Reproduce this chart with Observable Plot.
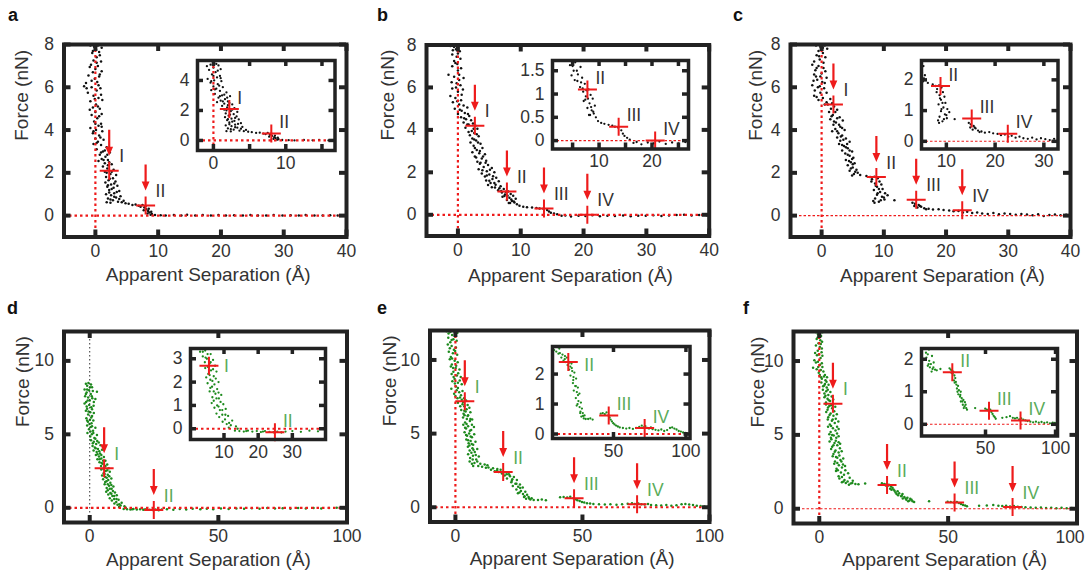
<!DOCTYPE html>
<html><head><meta charset="utf-8">
<script src="https://cdn.jsdelivr.net/npm/d3@7"></script>
<script src="https://cdn.jsdelivr.net/npm/@observablehq/plot@0.6"></script>
<style>
body{margin:0;background:#fff;}
#root{position:relative;width:1088px;height:577px;overflow:hidden;background:#fff;font-family:"Liberation Sans",Arial,sans-serif;}
.plet{position:absolute;font-weight:bold;font-size:18px;line-height:1;color:#111;}
</style></head><body><div id="root"></div>
<script>
// ---------- DATA (Apparent Separation Å, Force nN) ----------
const ptsA = [[-0.8,7.95],[-0.2,7.9],[0.4,7.95],[1.0,7.85],[0.1,7.75],[-0.5,7.6],[0.7,7.5],[0.2,7.4],[-0.3,7.25],[0.9,7.2],[-0.7,7.05],[0.4,7.0],[0.0,6.85],[1.0,6.75],[-0.4,6.7],[-1.1,6.55],[0.6,6.5],[-0.1,6.4],[0.3,6.25],[-1.5,6.2],[-1.8,6.05],[-0.6,6.0],[0.8,5.95],[0.2,5.85],[-1.2,5.75],[-0.3,5.6],[0.5,5.5],[1.1,5.4],[-0.8,5.35],[0.1,5.2],[-0.4,5.05],[0.7,5.0],[0.0,4.85],[1.0,4.75],[-0.6,4.7],[0.3,4.55],[-0.2,4.4],[0.9,4.3],[0.5,4.2],[-0.8,4.1],[0.1,4.0],[1.1,3.95],[-0.4,3.85],[0.6,3.75],[0.0,3.6],[1.3,3.55],[0.4,3.45],[-0.3,3.35],[0.9,3.3],[1.8,3.2],[0.2,3.1],[1.2,3.0],[2.3,2.95],[0.7,2.85],[1.6,2.75],[1.0,2.65],[2.0,2.6],[0.5,2.55],[1.5,2.45],[2.6,2.4],[1.2,2.3],[1.9,2.2],[2.9,2.15],[1.5,2.05],[2.4,1.95],[3.3,1.9],[1.7,1.8],[2.8,1.75],[2.1,1.65],[3.2,1.6],[1.6,1.55],[2.5,1.45],[3.5,1.4],[1.9,1.35],[2.9,1.3],[2.2,1.2],[3.8,1.15],[3.0,1.05],[1.7,1.0],[2.5,0.95],[4.0,0.9],[3.3,0.85],[2.0,0.8],[2.8,0.72],[4.5,0.7],[3.6,0.65],[1.8,0.62],[2.4,0.6],[4.8,0.58],[5.3,0.55],[5.9,0.5],[6.4,0.52],[6.9,0.46],[7.2,0.42],[7.5,0.5],[7.8,0.38],[8.1,0.3],[7.7,0.25],[8.4,0.22],[8.6,0.15],[8.3,0.1],[9.0,0.08],[8.8,0.04],[9.5,0.03],[10.4,0.02],[11.2,0.0],[12.5,0.03],[13.7,0.01],[14.6,0.04],[15.9,0.0],[17.1,0.03],[18.4,0.01],[19.6,0.03],[20.8,0.0],[22.1,0.02],[23.5,0.0],[24.7,0.03],[25.9,0.01],[27.2,0.0],[28.4,0.03],[29.8,0.0],[31.1,0.02],[32.4,0.0],[33.5,0.03],[34.9,0.01],[36.2,0.0],[37.4,0.02],[38.6,0.0],[39.7,0.02],
 [0.0,7.98],[-0.4,7.7],[0.6,7.65],[0.2,7.15],[-0.9,6.95],[0.7,6.6],[-0.6,6.3],[0.5,6.1],[-1.4,5.95],[0.9,5.65],[-0.1,5.45],[0.4,5.1],[-0.9,4.95],[0.6,4.65],[0.0,4.3],[1.0,4.15],[-0.3,3.95],[0.8,3.65],[0.2,3.4],[1.5,3.05],[0.9,2.95],[1.9,2.85],[2.2,2.5],[1.3,2.6],[2.0,2.35],[2.6,2.05],[1.8,2.0],[2.3,1.72],[3.0,1.5],[2.0,1.42],[2.6,1.25],[3.4,1.1],[2.2,1.08],[3.0,0.88],[3.8,0.78],[2.4,0.75],[4.2,0.62],[8.0,0.45],[8.5,0.32],[8.9,0.18]];
const ptsB = [[-1.2,7.95],[-0.6,7.9],[0.1,7.95],[-0.3,7.8],[0.3,7.7],[-0.9,7.55],[-0.2,7.45],[0.4,7.35],[-0.6,7.25],[-0.1,7.1],[-0.9,7.0],[0.5,6.9],[0.0,6.8],[-1.5,6.6],[-0.6,6.5],[0.9,6.45],[0.2,6.35],[-1.0,6.25],[0.4,6.1],[-0.3,6.0],[0.8,5.9],[0.0,5.8],[-1.2,5.6],[-0.4,5.5],[0.5,5.4],[-0.8,5.3],[0.2,5.2],[1.5,5.05],[-0.5,5.0],[0.6,4.9],[1.1,4.8],[0.0,4.75],[1.8,4.65],[0.5,4.6],[1.3,4.5],[2.1,4.45],[0.9,4.35],[1.7,4.25],[2.8,4.2],[1.2,4.1],[3.1,4.05],[2.2,3.95],[2.6,3.85],[1.9,3.75],[3.3,3.7],[2.3,3.6],[2.9,3.5],[2.0,3.4],[3.6,3.35],[2.5,3.25],[3.9,3.15],[3.0,3.05],[2.3,2.95],[3.4,2.9],[4.3,2.85],[2.7,2.75],[3.8,2.65],[4.5,2.55],[3.1,2.5],[3.5,2.4],[4.8,2.35],[4.1,2.25],[5.4,2.2],[3.3,2.15],[4.6,2.05],[5.8,2.0],[3.8,1.95],[5.0,1.9],[4.3,1.8],[6.1,1.75],[5.5,1.68],[4.5,1.62],[6.5,1.58],[5.2,1.5],[6.0,1.42],[4.8,1.4],[6.8,1.35],[5.9,1.28],[7.3,1.22],[6.4,1.15],[8.0,1.1],[7.0,1.05],[8.4,0.98],[7.5,0.95],[8.8,0.9],[7.1,0.85],[8.2,0.8],[9.2,0.75],[7.8,0.7],[8.6,0.65],[9.0,0.58],[8.1,0.55],[9.4,0.5],[9.8,0.42],[10.4,0.38],[11.0,0.36],[11.8,0.34],[12.5,0.32],[13.0,0.3],[13.6,0.28],[14.2,0.22],[14.5,0.15],[14.8,0.1],[15.3,0.06],[15.8,0.02],[16.5,-0.05],[17.1,-0.03],[18.0,-0.08],[19.2,-0.04],[20.3,-0.06],[21.4,-0.02],[22.6,-0.07],[23.8,-0.04],[25.0,-0.06],[26.3,-0.03],[27.5,-0.07],[28.7,-0.04],[29.9,-0.05],[31.1,-0.02],[32.4,-0.06],[33.6,-0.03],[34.8,-0.01],[36.0,0.0],[37.2,-0.03],[38.4,-0.01],[39.6,-0.02],
 [-0.8,7.75],[0.0,7.6],[-0.4,7.15],[0.2,6.6],[-0.2,6.2],[-0.9,5.95],[0.6,5.65],[-0.1,5.35],[0.9,5.15],[0.3,4.95],[1.6,4.75],[1.0,4.55],[2.4,4.3],[1.5,4.25],[2.5,4.05],[1.7,3.9],[3.0,3.8],[2.6,3.55],[3.2,3.4],[2.7,3.15],[3.5,3.0],[2.9,2.7],[4.0,2.75],[3.6,2.45],[4.4,2.45],[3.9,2.1],[5.1,2.12],[4.6,1.85],[5.6,1.82],[5.0,1.6],[5.8,1.5],[5.4,1.3],[6.6,1.25],[6.9,1.12],[7.6,1.08],[7.4,0.88],[8.5,0.72],[8.9,0.62],[7.9,0.9],[8.3,0.55]];
const ptsC = [[-0.9,7.95],[-0.2,7.9],[0.5,7.95],[0.9,7.8],[-0.5,7.7],[0.2,7.6],[-0.8,7.5],[0.6,7.4],[-0.3,7.3],[-1.2,7.2],[-1.5,7.05],[-0.5,7.0],[0.3,6.9],[-1.0,6.8],[0.6,6.75],[-1.2,6.6],[-0.2,6.5],[0.8,6.45],[-0.7,6.35],[0.1,6.25],[-1.5,6.1],[-0.6,6.0],[0.4,5.95],[-1.1,5.85],[-0.2,5.75],[-1.2,5.6],[0.2,5.5],[1.4,5.45],[-0.5,5.4],[0.8,5.3],[1.0,5.2],[2.0,5.1],[1.5,5.0],[2.5,4.95],[1.2,4.85],[1.8,4.7],[2.9,4.6],[1.4,4.5],[3.4,4.45],[2.3,4.35],[1.9,4.25],[3.0,4.15],[2.2,4.05],[3.7,4.0],[1.7,3.95],[2.7,3.85],[3.3,3.75],[2.5,3.65],[3.9,3.6],[3.0,3.5],[4.5,3.45],[2.8,3.35],[3.6,3.25],[4.2,3.15],[3.3,3.05],[4.9,3.0],[3.8,2.9],[4.5,2.8],[5.1,2.7],[3.9,2.6],[4.7,2.5],[5.3,2.45],[4.2,2.35],[5.0,2.25],[5.6,2.15],[4.5,2.1],[5.8,2.0],[5.2,1.95],[6.2,1.9],[4.9,1.88],[7.2,1.85],[7.8,1.8],[8.5,1.82],[9.0,1.75],[8.1,1.7],[9.3,1.6],[8.6,1.5],[9.6,1.45],[8.9,1.35],[9.8,1.25],[8.4,1.2],[9.4,1.1],[10.2,1.05],[8.9,0.98],[10.6,0.95],[9.7,0.88],[8.6,0.8],[10.1,0.75],[8.3,0.68],[9.2,0.65],[8.5,0.6],[11.7,0.72],[14.6,0.6],[15.0,0.55],[15.6,0.5],[14.9,0.45],[16.0,0.42],[15.4,0.38],[16.5,0.35],[17.2,0.32],[17.9,0.28],[18.8,0.3],[19.6,0.26],[20.5,0.24],[21.2,0.2],[22.0,0.22],[22.7,0.15],[23.4,0.18],[24.2,0.12],[25.0,0.15],[25.8,0.1],[26.7,0.08],[27.6,0.12],[28.5,0.06],[29.4,0.1],[30.3,0.07],[31.2,0.04],[32.1,0.08],[33.0,0.05],[33.9,0.02],[34.8,0.06],[35.7,-0.02],[36.6,0.03],[37.5,0.05],[38.4,0.02],[39.3,0.04],
 [0.2,7.85],[-0.4,7.45],[0.3,7.15],[-0.8,6.9],[0.0,6.65],[-0.9,6.5],[0.5,6.2],[-1.3,6.3],[-0.3,6.05],[0.8,5.75],[-0.8,5.55],[0.5,5.2],[1.7,5.25],[2.2,4.85],[1.6,4.65],[2.5,4.55],[2.0,4.4],[2.8,4.25],[3.3,4.1],[2.5,3.95],[3.1,3.7],[3.5,3.55],[4.1,3.35],[3.3,3.3],[3.9,3.2],[4.5,3.05],[4.2,2.85],[4.9,2.65],[4.4,2.55],[5.0,2.4],[4.7,2.2],[5.4,2.05],[8.0,1.6],[8.7,1.4],[9.2,1.25],[9.0,1.05],[10.0,0.85],[9.5,0.72],[15.8,0.45],[16.8,0.3]];
const ptsD = [[-1.5,8.45],[-0.5,8.5],[0.5,8.4],[-1.0,8.3],[0.9,8.2],[-2.0,8.05],[-0.3,8.0],[1.2,7.95],[2.8,7.9],[-1.2,7.85],[0.4,7.75],[-1.8,7.6],[-0.6,7.5],[1.0,7.45],[2.2,7.4],[0.0,7.3],[-1.4,7.2],[-2.0,7.1],[-0.2,7.0],[1.5,6.95],[0.6,6.85],[-1.0,6.75],[-1.5,6.6],[0.2,6.5],[1.6,6.45],[-0.6,6.35],[0.9,6.25],[-1.3,6.1],[0.1,6.0],[1.4,5.95],[-0.7,5.85],[0.7,5.75],[-1.0,5.6],[0.4,5.5],[2.2,5.45],[-0.3,5.35],[1.3,5.25],[-0.9,5.1],[0.8,5.0],[2.8,4.95],[0.2,4.85],[1.8,4.75],[0.5,4.6],[1.6,4.5],[3.5,4.45],[2.5,4.35],[4.2,4.25],[1.1,4.2],[2.0,4.1],[3.2,4.0],[4.8,3.95],[1.5,3.9],[2.7,3.8],[4.0,3.7],[2.4,3.6],[3.6,3.5],[5.5,3.45],[4.5,3.35],[3.0,3.3],[6.1,3.2],[3.8,3.1],[5.0,3.0],[6.8,2.95],[4.4,2.85],[5.8,2.8],[7.4,2.7],[4.5,2.6],[6.2,2.5],[7.8,2.45],[5.4,2.35],[7.0,2.25],[4.8,2.2],[6.0,2.1],[8.4,2.0],[5.2,1.95],[7.2,1.9],[6.5,1.8],[8.0,1.7],[5.8,1.6],[7.5,1.5],[9.2,1.45],[6.6,1.35],[8.5,1.3],[7.0,1.2],[6.4,1.1],[9.8,1.05],[8.0,1.0],[7.2,0.9],[10.5,0.85],[8.8,0.8],[7.8,0.65],[9.5,0.6],[11.2,0.55],[8.6,0.5],[10.3,0.4],[12.4,0.35],[9.6,0.3],[10.8,0.2],[12.0,0.15],[13.5,0.1],[11.4,0.05],[14.0,0.0],[13.2,-0.08],[14.5,-0.1],[15.8,-0.12],[17.0,-0.08],[18.3,-0.12],[19.6,-0.1],[20.8,-0.14],[22.0,-0.1],[23.3,-0.13],[24.5,-0.15],[25.6,-0.12],[26.8,-0.16],[28.0,-0.12],[30.0,-0.1],[32.5,-0.13],[35.0,-0.08],[37.5,-0.11],[40.0,-0.07],[43.0,-0.1],[45.5,-0.06],[48.0,-0.09],[51.0,-0.05],[54.0,-0.08],[57.0,-0.04],[60.0,-0.07],[63.0,-0.03],[66.0,-0.06],[69.0,-0.02],[72.0,-0.05],[75.0,-0.03],[78.0,-0.06],[81.0,-0.02],[84.0,-0.04],[87.0,-0.01],[90.0,-0.04],[93.0,-0.02],[96.0,0.0],[99.0,-0.02],
 [-1.0,8.05],[0.1,8.2],[-1.5,7.75],[0.8,7.6],[-0.8,7.3],[1.6,7.2],[-1.2,6.9],[0.9,6.7],[-0.5,6.55],[0.6,6.15],[-1.0,5.95],[0.9,5.55],[-0.1,5.7],[1.4,5.1],[0.3,5.2],[2.2,4.7],[1.2,4.4],[2.9,4.55],[2.3,4.05],[3.7,3.85],[3.0,3.65],[4.5,3.6],[3.8,3.3],[5.2,3.2],[4.6,3.05],[6.1,2.85],[5.3,2.65],[6.8,2.55],[5.8,2.3],[6.6,2.05],[7.6,2.15],[6.0,1.75],[8.4,1.55],[7.0,1.6],[7.8,1.3],[9.0,1.15],[8.4,0.95],[9.5,0.8],[10.4,0.6],[11.5,0.25],[16.5,-0.1],[21.4,-0.12]];
const ptsE = [[-3.5,11.95],[-2.0,11.9],[-0.5,11.95],[0.8,11.85],[-1.3,11.7],[-2.8,11.5],[-0.8,11.4],[0.5,11.3],[-2.0,11.2],[-3.0,11.05],[-1.5,10.95],[0.2,10.85],[-0.6,10.7],[-2.6,10.55],[-1.0,10.45],[0.7,10.35],[-1.8,10.2],[-2.2,10.05],[-0.3,9.95],[0.9,9.85],[-1.4,9.7],[-1.8,9.55],[0.1,9.45],[1.6,9.35],[-0.8,9.2],[-1.5,9.05],[0.6,8.95],[2.1,8.85],[-0.3,8.7],[-1.2,8.55],[1.0,8.45],[2.5,8.35],[0.2,8.2],[-1.6,8.05],[0.5,7.95],[2.8,7.9],[1.5,7.8],[-0.5,7.7],[0.0,7.55],[1.8,7.45],[3.4,7.4],[2.5,7.3],[4.2,7.25],[1.0,7.1],[2.8,7.0],[4.8,6.95],[3.5,6.85],[5.5,6.75],[2.3,6.6],[4.0,6.5],[5.9,6.45],[3.2,6.35],[5.0,6.25],[3.0,6.1],[4.5,6.0],[6.6,5.95],[5.7,5.85],[3.8,5.75],[3.1,5.6],[5.0,5.5],[7.3,5.45],[4.2,5.35],[6.2,5.25],[3.6,5.1],[5.4,5.0],[7.4,4.95],[4.6,4.85],[6.5,4.75],[4.3,4.6],[6.0,4.5],[7.9,4.45],[5.2,4.35],[7.0,4.25],[4.9,4.1],[6.7,4.0],[8.6,3.95],[5.6,3.85],[7.6,3.75],[5.0,3.6],[6.9,3.5],[9.2,3.45],[5.8,3.35],[8.2,3.25],[5.6,3.1],[7.5,3.0],[9.8,2.95],[11.5,2.9],[12.6,2.85],[6.5,2.95],[10.5,2.75],[13.0,2.7],[14.8,2.65],[16.5,2.6],[17.8,2.55],[12.0,2.68],[15.5,2.45],[17.0,2.4],[19.5,2.38],[21.0,2.35],[20.2,2.25],[16.4,2.5],[19.4,2.15],[21.5,2.1],[23.0,2.05],[20.3,1.95],[22.4,1.9],[24.2,1.85],[22.0,1.7],[23.6,1.6],[25.4,1.55],[22.6,1.45],[24.7,1.4],[26.5,1.35],[24.0,1.2],[25.8,1.1],[27.5,1.05],[24.6,0.95],[26.6,0.9],[28.2,0.85],[27.2,0.75],[28.8,0.7],[30.0,0.62],[27.8,0.58],[29.5,0.52],[30.8,0.5],[32.5,0.5],[34.0,0.52],[35.6,0.48],[41.2,0.68],[42.6,0.7],[44.0,0.66],[45.2,0.72],[46.5,0.62],[47.3,0.55],[48.0,0.48],[48.9,0.42],[49.8,0.36],[50.7,0.32],[51.8,0.28],[53.0,0.25],[54.3,0.22],[56.5,0.2],[58.8,0.18],[61.0,0.2],[63.4,0.17],[65.6,0.2],[67.8,0.24],[69.5,0.28],[70.6,0.22],[72.0,0.26],[73.2,0.2],[74.5,0.18],[75.8,0.22],[77.0,0.16],[79.0,0.14],[81.0,0.12],[83.0,0.15],[85.0,0.1],[87.0,0.13],[89.0,0.2],[90.5,0.22],[92.0,0.18],[93.5,0.15],[95.0,0.1],[96.5,0.08],[98.0,0.05],[99.5,0.04],
 [-2.7,11.8],[-0.1,11.6],[-1.5,11.35],[-2.2,10.8],[-0.1,10.6],[-1.3,10.1],[0.3,9.6],[-0.9,9.45],[1.1,9.1],[-0.7,8.85],[1.7,8.6],[-0.2,8.4],[1.0,8.1],[2.2,7.6],[0.8,7.4],[3.0,7.15],[1.9,6.85],[4.4,6.65],[3.5,6.55],[4.8,6.2],[3.6,6.25],[5.9,6.0],[4.4,5.65],[6.5,5.6],[3.8,5.4],[5.7,5.2],[4.2,4.9],[6.0,4.8],[5.0,4.55],[6.4,4.3],[5.5,4.2],[7.1,3.9],[6.3,3.7],[8.0,3.55],[6.8,3.25],[8.6,3.1],[7.0,2.8],[9.0,2.8],[14.0,2.55],[18.3,2.3],[21.2,2.2],[22.2,1.8],[24.0,1.6],[25.5,1.3],[25.2,1.0],[27.0,0.7],[29.0,0.6]];
const ptsF = [[-1.2,11.95],[0.0,11.9],[1.2,11.95],[-0.5,11.8],[0.7,11.7],[-1.0,11.5],[0.4,11.4],[1.1,11.3],[-0.3,11.2],[-1.3,11.05],[0.2,10.95],[1.0,10.85],[-0.6,10.7],[-1.6,10.55],[-0.2,10.45],[1.2,10.35],[0.5,10.2],[-1.9,10.05],[-0.5,9.95],[1.0,9.85],[0.3,9.75],[-2.4,9.55],[-1.0,9.45],[0.6,9.4],[1.6,9.3],[-0.2,9.2],[0.2,9.05],[1.8,8.95],[3.0,8.9],[1.0,8.8],[2.4,8.7],[0.8,8.55],[2.2,8.45],[3.6,8.4],[1.5,8.3],[2.9,8.2],[1.4,8.05],[2.7,7.95],[4.3,7.9],[2.0,7.8],[3.5,7.7],[2.0,7.55],[3.2,7.45],[5.4,7.4],[4.2,7.3],[2.6,7.2],[2.6,7.05],[3.9,6.95],[6.2,6.9],[5.0,6.8],[3.2,6.7],[2.7,6.55],[4.4,6.45],[6.8,6.4],[5.5,6.3],[3.5,6.2],[3.3,6.05],[4.9,5.95],[7.4,5.9],[6.0,5.8],[4.1,5.7],[3.4,5.55],[5.3,5.45],[7.5,5.4],[6.3,5.3],[4.4,5.2],[3.9,5.05],[5.6,4.95],[7.5,4.9],[6.6,4.8],[4.7,4.7],[4.0,4.55],[5.9,4.45],[8.1,4.4],[7.0,4.3],[5.0,4.2],[4.6,4.05],[6.3,3.95],[8.7,3.9],[7.5,3.8],[5.5,3.7],[5.2,3.55],[7.0,3.45],[9.3,3.4],[8.2,3.3],[6.1,3.2],[5.8,3.05],[7.6,2.95],[10.0,2.9],[8.8,2.8],[6.7,2.7],[6.5,2.55],[8.4,2.45],[11.2,2.4],[9.6,2.3],[7.5,2.2],[7.8,2.05],[9.8,1.95],[13.0,1.9],[11.0,1.85],[8.8,1.8],[10.3,1.75],[12.2,1.7],[14.0,1.68],[15.2,1.66],[11.5,1.62],[17.8,1.7],[24.3,1.72],[25.2,1.68],[26.0,1.65],[27.0,1.62],[26.6,1.55],[27.8,1.5],[28.4,1.42],[27.5,1.35],[28.0,1.28],[29.2,1.22],[30.4,1.18],[29.6,1.1],[31.0,1.05],[32.3,1.0],[30.6,0.92],[31.8,0.85],[33.0,0.8],[34.2,0.75],[32.4,0.7],[35.3,0.68],[33.8,0.6],[35.0,0.55],[36.2,0.5],[36.8,0.45],[34.5,0.5],[42.6,0.5],[49.8,0.48],[51.0,0.45],[52.2,0.42],[53.4,0.45],[54.2,0.38],[55.0,0.32],[55.8,0.26],[56.6,0.22],[57.3,0.17],[62.0,0.2],[65.0,0.22],[67.5,0.25],[69.5,0.2],[71.0,0.18],[72.5,0.2],[74.0,0.15],[75.5,0.18],[77.0,0.14],[78.5,0.12],[80.0,0.1],[82.0,0.08],[84.0,0.06],[86.0,0.08],[88.0,0.05],[90.0,0.07],[92.0,0.04],[94.0,0.06],[96.0,0.03],[98.0,0.05],[99.5,0.04],
 [-0.6,11.6],[0.6,11.15],[-0.9,10.4],[0.9,10.6],[-1.3,9.9],[1.2,9.6],[-0.4,9.6],[2.2,9.05],[0.7,8.9],[2.8,8.6],[1.9,8.35],[3.3,8.05],[2.4,7.65],[4.8,7.6],[3.7,7.35],[4.6,7.0],[3.4,6.85],[5.8,6.6],[4.0,6.35],[6.4,6.1],[5.2,6.05],[4.6,5.6],[6.9,5.55],[5.0,5.0],[6.9,5.1],[4.5,4.8],[6.4,4.6],[7.5,4.5],[5.5,4.3],[8.0,4.1],[6.0,3.85],[7.8,3.6],[6.5,3.5],[8.6,3.2],[7.0,3.1],[9.2,3.0],[7.2,2.6],[10.1,2.6],[8.8,2.15],[11.8,2.1],[9.4,1.85],[12.8,1.75],[25.8,1.58],[28.8,1.3],[30.0,1.0],[32.0,0.9],[33.5,0.7],[35.8,0.6]];

// event markers (position of the red crosses)
const markA = [{x:2.2,y:2.1,label:"I"},{x:8.0,y:0.47,label:"II"}];
const markB = [{x:2.7,y:4.2,label:"I"},{x:7.8,y:1.1,label:"II"},{x:13.7,y:0.3,label:"III"},{x:20.6,y:0.0,label:"IV"}];
const markC = [{x:1.9,y:5.2,label:"I"},{x:8.8,y:1.8,label:"II"},{x:15.2,y:0.74,label:"III"},{x:22.6,y:0.25,label:"IV"}];
const markD = [{x:5.6,y:2.7,label:"I"},{x:24.9,y:-0.15,label:"II"}];
const markE = [{x:3.7,y:7.2,label:"I"},{x:18.8,y:2.4,label:"II"},{x:46.7,y:0.62,label:"III"},{x:71.5,y:0.2,label:"IV"}];
const markF = [{x:5.3,y:7.1,label:"I"},{x:26.3,y:1.6,label:"II"},{x:52.5,y:0.42,label:"III"},{x:75.0,y:0.12,label:"IV"}];

// tick values
const xTicksTop = [0,10,20,30,40];
const yTicksTop = [0,2,4,6,8];
const xTicksBot = [0,50,100];
const yTicksBot = [0,5,10];
const insetXTicks = {a:[0,5,10,15], b:[5,10,15,20,25], c:[10,20,30], d:[10,20,30], e:[50,100], f:[50,100]};
const insetXLabels = {a:[0,10], b:[10,20], c:[10,20,30], d:[10,20,30], e:[50,100], f:[50,100]};
const insetYTicks = {a:[0,2,4], b:[0,0.5,1,1.5], c:[0,1,2], d:[0,1,2,3], e:[0,1,2], f:[0,1,2]};
const xTitle = "Apparent Separation (Å)";
const yTitle = "Force (nN)";

// ---------- STYLE / LAYOUT ----------
const FONT = '"Liberation Sans", Arial, sans-serif';
const RED = "#ee1b1b";
const AX = "#222";
const TXT = "#333";
const BLACKDOT = "#111";
const GREENDOT = "#1d8a1d";
const GREENTXT = "#5aac5a";
const TICKFS = 17.5, TITLEFS = 19, LABFS = 17.5;
const thickRed = {stroke: RED, strokeWidth: 2.2, strokeDasharray: "2.5,3"};
const thinRed = {stroke: RED, strokeWidth: 1.1, strokeDasharray: "2.5,2"};
const thinBlack = {stroke: "#333", strokeWidth: 1, strokeDasharray: "1.5,2.5"};

const crossSym = {draw(ctx){ ctx.moveTo(-9.5,0); ctx.lineTo(9.5,0); ctx.moveTo(0,-9); ctx.lineTo(0,9); }};
const arrowSym = {draw(ctx){ ctx.moveTo(-1.1,-41); ctx.lineTo(1.1,-41); ctx.lineTo(1.1,-24); ctx.lineTo(3.9,-24); ctx.lineTo(0,-15); ctx.lineTo(-3.9,-24); ctx.lineTo(-1.1,-24); ctx.closePath(); }};

const insetLabelShift = {d: {I: [15, 1]}, e: {II: [16, 3]}};
const lastXLabelShift = {f: -7};

const panels = [
 {id:"a", pts:ptsA, mk:markA, dot:BLACKDOT, lab:TXT, box:[0,0,360,290], fr:[63.5,346,44,236.5], x:[-5,40], y:[-1,8], xt:xTicksTop, yt:yTicksTop, h:thickRed, v:thickRed, xtD:[3,43.5], ytD:-42.5,
  inset:{fr:[196.5,334,60,150], x:[-2.2,16.8], y:[-0.67,5.33], h:thickRed, v:thickRed}},
 {id:"b", pts:ptsB, mk:markB, dot:BLACKDOT, lab:TXT, box:[360,0,360,290], fr:[426,708.7,44.5,235.5], x:[-5,40], y:[-1,8], xt:xTicksTop, yt:yTicksTop, h:thickRed, v:thickRed, xtD:[2.6,46], ytD:-38.7,
  inset:{fr:[551.5,687.5,60,148.5], x:[1.2,26.9], y:[-0.18,1.72], h:thinRed, v:null}},
 {id:"c", pts:ptsC, mk:markC, dot:BLACKDOT, lab:TXT, box:[720,0,368,290], fr:[790,1070,44,236.5], x:[-5,40], y:[-1,8], xt:xTicksTop, yt:yTicksTop, h:thinRed, v:thickRed, xtD:[12,44.5], ytD:-34.3,
  inset:{fr:[921,1057.5,60,148.5], x:[4.9,32.9], y:[-0.25,2.63], h:thinRed, v:null}},
 {id:"d", pts:ptsD, mk:markD, dot:GREENDOT, lab:GREENTXT, box:[0,290,360,287], fr:[63.5,346.5,331,522], x:[-10,100], y:[-1,12], xt:xTicksBot, yt:yTicksBot, h:thickRed, v:thinBlack, xtD:[3,43], ytD:-41,
  inset:{fr:[190,325,347.5,438.5], x:[0.2,39.7], y:[-0.46,3.44], h:thickRed, v:null}},
 {id:"e", pts:ptsE, mk:markE, dot:GREENDOT, lab:GREENTXT, box:[360,290,360,287], fr:[429.5,709,330,521.5], x:[-10,100], y:[-1,12], xt:xTicksBot, yt:yTicksBot, h:thickRed, v:thickRed, xtD:[2.4,42.5], ytD:-40.5,
  inset:{fr:[551.5,689,345.5,437.5], x:[7.9,102.8], y:[-0.15,2.92], h:thickRed, v:null}},
 {id:"f", pts:ptsF, mk:markF, dot:GREENDOT, lab:GREENTXT, box:[720,290,368,287], fr:[793,1076.5,331,523], x:[-10,100], y:[-1,12], xt:xTicksBot, yt:yTicksBot, h:thinRed, v:thickRed, xtD:[9.5,42], ytD:-35.5,
  inset:{fr:[921,1057,347.5,435], x:[4.3,101.4], y:[-0.36,2.33], h:thinRed, v:null}}
];
const letterPos = {a:[8,6], b:[377,6], c:[733,6], d:[7,299], e:[377,299], f:[743,299]};

const root = document.getElementById("root");

function build(o) {
  const [L,T,W,H] = o.box;
  const [fl,frr,ft,fb] = o.fr;
  const ml = fl - L, mr = L + W - frr, mt = ft - T, mb = T + H - fb;
  const iw = frr - fl, ih = fb - ft;
  const inX = v => v >= o.x[0] && v <= o.x[1];
  const inY = v => v >= o.y[0] && v <= o.y[1];
  const xt = o.xt.filter(inX), yt = o.yt.filter(inY);
  const mk = o.mk.filter(d => inX(d.x) && inY(d.y));
  const xl = o.xl.filter(inX);
  const shiftLast = o.lastShift || 0;
  const xlA = shiftLast ? xl.slice(0, -1) : xl;
  const xlB = shiftLast ? xl.slice(-1) : [];
  const dxDef = o.main ? 10 : 8, dyDef = o.main ? -14 : -11;
  const sh = o.labShift || {};
  const mkDef = mk.filter(d => !sh[d.label]);
  const marks = [
    Plot.frame({fill: "white", stroke: null}),
    Plot.dot(o.pts, {x: d => d[0], y: d => d[1], r: o.main ? 1.25 : 1.15, fill: o.dot, stroke: null, clip: true})
  ];
  if (o.v && inX(0)) marks.push(Plot.ruleX([0], {...o.v, clip: true}));
  if (o.h && inY(0)) marks.push(Plot.ruleY([0], {...o.h, clip: true}));
  if (o.main) marks.push(Plot.dot(mk, {x: "x", y: "y", symbol: arrowSym, r: 5, fill: RED, stroke: null}));
  marks.push(
    Plot.dot(mk, {x: "x", y: "y", symbol: crossSym, r: 5, fill: "none", stroke: RED, strokeWidth: 2}),
    Plot.text(mkDef, {x: "x", y: "y", text: "label", dx: dxDef, dy: dyDef, textAnchor: "start", fill: o.lab, fontSize: LABFS})
  );
  for (const d of mk.filter(d => sh[d.label])) {
    marks.push(Plot.text([d], {x: "x", y: "y", text: "label", dx: sh[d.label][0], dy: sh[d.label][1], textAnchor: "start", fill: o.lab, fontSize: LABFS}));
  }
  marks.push(
    Plot.tickX(xt, {x: d => d, stroke: AX, strokeWidth: o.tickW, insetTop: ih - o.tickLen}),
    Plot.tickX(xt, {x: d => d, stroke: AX, strokeWidth: o.tickW, insetBottom: ih - o.tickLen}),
    Plot.tickY(yt, {y: d => d, stroke: AX, strokeWidth: o.tickW, insetRight: iw - o.tickLen}),
    Plot.tickY(yt, {y: d => d, stroke: AX, strokeWidth: o.tickW, insetLeft: iw - o.tickLen}),
    Plot.frame({stroke: AX, strokeWidth: o.frameW}),
    Plot.text(xlA, {x: d => d, text: d => String(d), frameAnchor: "bottom", dy: o.main ? 19.5 : 18, fontSize: TICKFS, fill: TXT}),
    Plot.text(xlB, {x: d => d, text: d => String(d), frameAnchor: "bottom", dx: shiftLast, dy: o.main ? 19.5 : 18, fontSize: TICKFS, fill: TXT})
  );
  if (o.main) {
    marks.push(
      Plot.text([xTitle], {text: d => d, frameAnchor: "bottom", dx: o.xtD[0], dy: o.xtD[1], fontSize: TITLEFS, fill: TXT}),
      Plot.text([yTitle], {text: d => d, frameAnchor: "left", dx: o.ytD, rotate: -90, fontSize: TITLEFS, fill: TXT})
    );
  }
  const svg = Plot.plot({
    width: W, height: H,
    marginLeft: ml, marginRight: mr, marginTop: mt, marginBottom: mb,
    x: {domain: o.x, axis: null},
    y: {domain: o.y, ticks: yt, tickSize: 0, tickPadding: o.main ? 10 : 8, label: null, tickFormat: d => String(d)},
    style: {background: "transparent", fontFamily: FONT, fontSize: TICKFS + "px", color: TXT, overflow: "visible"},
    marks
  });
  svg.style.position = "absolute";
  svg.style.left = L + "px";
  svg.style.top = T + "px";
  svg.style.maxWidth = "none";
  svg.style.background = "transparent";
  svg.style.overflow = "visible";
  root.appendChild(svg);
}

for (const p of panels) {
  build({box: p.box, fr: p.fr, x: p.x, y: p.y, xt: p.xt, xl: p.xt, yt: p.yt, pts: p.pts, mk: p.mk, dot: p.dot, lab: p.lab,
         h: p.h, v: p.v, main: true, frameW: 4, tickLen: 7, tickW: 4, xtD: p.xtD, ytD: p.ytD, lastShift: lastXLabelShift[p.id]});
  const lt = document.createElement("div");
  lt.className = "plet";
  lt.textContent = p.id;
  lt.style.left = letterPos[p.id][0] + "px";
  lt.style.top = letterPos[p.id][1] + "px";
  root.appendChild(lt);
}
for (const p of panels) {
  const q = p.inset;
  const [l, r, t, b] = q.fr;
  build({box: [l - 50, t - 12, (r - l) + 64, (b - t) + 44], fr: q.fr, x: q.x, y: q.y,
         xt: insetXTicks[p.id], xl: insetXLabels[p.id], yt: insetYTicks[p.id], pts: p.pts, mk: p.mk, dot: p.dot, lab: p.lab,
         h: q.h, v: q.v, main: false, frameW: 3.5, tickLen: 6, tickW: 3.5, labShift: insetLabelShift[p.id]});
}
</script></body></html>
